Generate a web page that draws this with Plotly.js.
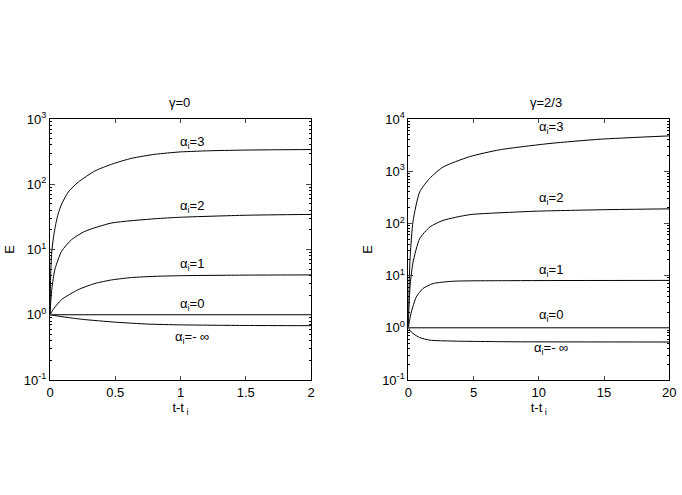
<!DOCTYPE html>
<html>
<head>
<meta charset="utf-8">
<script src="https://cdn.plot.ly/plotly-3.0.1.min.js"></script>
<style>body{margin:0;background:#fff}#plot{width:682px;height:495px}</style>
</head>
<body>
<div id="plot"></div>
<script>
// left panel, gamma = 0
var tL3 = [0, 0.005, 0.013, 0.026, 0.045, 0.064, 0.09, 0.14, 0.217, 0.345, 0.473, 0.626, 0.805, 1.0, 1.25, 1.5, 1.75, 2.0];
var eL3 = [1, 4, 9, 15, 25, 36, 50, 76, 108, 160, 203, 250, 288, 313, 327, 334, 338, 340];
var tL2 = [0, 0.006, 0.015, 0.038, 0.089, 0.166, 0.268, 0.473, 0.805, 1.0, 1.5, 2.0];
var eL2 = [1, 1.6, 2.6, 5.0, 9.4, 14.2, 19, 25.5, 29.6, 31.2, 33.5, 34.5];
var tL1 = [0, 0.03, 0.089, 0.217, 0.345, 0.473, 0.626, 0.805, 1.0, 1.5, 2.0];
var eL1 = [1, 1.25, 1.71, 2.43, 3.02, 3.42, 3.72, 3.88, 3.97, 4.05, 4.08];
var tL0 = [0, 2];
var eL0 = [1, 1];
var tLm = [0, 0.1, 0.25, 0.5, 0.75, 1.0, 1.5, 2.0];
var eLm = [1, 0.93, 0.85, 0.77, 0.72, 0.70, 0.685, 0.68];

// right panel, gamma = 2/3
var tR3 = [0, 0.05, 0.15, 0.36, 0.87, 1.64, 2.66, 4.7, 7.0, 10.86, 14.7, 20];
var eR3 = [1, 6, 25, 110, 400, 730, 1200, 1900, 2570, 3400, 4100, 4750];
var tR2 = [0, 0.05, 0.15, 0.36, 0.87, 1.64, 2.66, 4.7, 8.02, 10, 15, 20];
var eR2 = [1, 2.5, 7, 18, 51, 85, 114, 147, 164, 172, 183, 190];
var tR1 = [0, 0.1, 0.23, 0.61, 1.12, 1.89, 3.42, 8.02, 20];
var eR1 = [1, 1.4, 2.0, 3.9, 5.65, 7.04, 7.8, 8.0, 8.1];
var tR0 = [0, 20];
var eR0 = [1, 1];
var tRm = [0, 0.15, 0.36, 0.87, 1.64, 3.42, 8.02, 20];
var eRm = [1, 0.88, 0.78, 0.65, 0.58, 0.557, 0.54, 0.535];

var xTicksL = [0, 0.5, 1, 1.5, 2];
var xTicksR = [0, 5, 10, 15, 20];
var yValsL = [0.1, 1, 10, 100, 1000];
var yTextL = ["10<sup>-1</sup>", "10<sup>0</sup>", "10<sup>1</sup>", "10<sup>2</sup>", "10<sup>3</sup>"];
var yValsR = [0.1, 1, 10, 100, 1000, 10000];
var yTextR = ["10<sup>-1</sup>", "10<sup>0</sup>", "10<sup>1</sup>", "10<sup>2</sup>", "10<sup>3</sup>", "10<sup>4</sup>"];

var labels = ["α<sub>i</sub>=3", "α<sub>i</sub>=2", "α<sub>i</sub>=1", "α<sub>i</sub>=0", "α<sub>i</sub>=- ∞"];
var labYL = [2.64, 1.66, 0.77, 0.15, -0.35];
var labYR = [3.84, 2.47, 1.10, 0.23, -0.40];

function line(x, y, xa, ya) {
  return {x: x, y: y, xaxis: xa, yaxis: ya, mode: "lines", type: "scatter",
    line: {color: "#000", width: 1, shape: "spline", smoothing: 0.6}, hoverinfo: "none"};
}

var data = [
  line(tL3, eL3, "x", "y"), line(tL2, eL2, "x", "y"), line(tL1, eL1, "x", "y"),
  line(tL0, eL0, "x", "y"), line(tLm, eLm, "x", "y"),
  line(tR3, eR3, "x2", "y2"), line(tR2, eR2, "x2", "y2"), line(tR1, eR1, "x2", "y2"),
  line(tR0, eR0, "x2", "y2"), line(tRm, eRm, "x2", "y2")
];

var font = {family: "Liberation Sans, Arial, sans-serif", size: 13, color: "#000"};

function xaxis(dom, range, ticks, anchor) {
  return {domain: dom, range: range, anchor: anchor, tickvals: ticks, ticks: "inside", ticklen: 4,
    showline: true, linecolor: "#000", linewidth: 1, mirror: "allticks", showgrid: false, zeroline: false,
    tickfont: font, title: {text: "t-t<sub> i</sub>", font: font, standoff: 4}};
}
function yaxis(dom, range, vals, text, anchor) {
  return {domain: dom, type: "log", range: range, anchor: anchor, tickvals: vals, ticktext: text,
    ticks: "inside", ticklen: 5, showline: true, linecolor: "#000", linewidth: 1, mirror: "allticks",
    showgrid: false, zeroline: false, tickfont: font,
    minor: {ticks: "inside", ticklen: 2, dtick: "D1", showgrid: false, tickcolor: "#000"},
    title: {text: "E", font: font, standoff: 6}};
}

var annotations = [
  {text: "γ=0", xref: "paper", yref: "paper", x: 0.263, y: 0.792, xanchor: "center", yanchor: "middle", showarrow: false, font: font},
  {text: "γ=2/3", xref: "paper", yref: "paper", x: 0.8006, y: 0.792, xanchor: "center", yanchor: "middle", showarrow: false, font: font}
];
for (var i = 0; i < labels.length; i++) {
  annotations.push({text: labels[i], xref: "x", yref: "y", x: 1.09, y: labYL[i], showarrow: false, font: font});
  annotations.push({text: labels[i], xref: "x2", yref: "y2", x: 10.9, y: labYR[i], showarrow: false, font: font});
}

var layout = {
  width: 682, height: 495,
  margin: {l: 0, r: 0, t: 0, b: 0},
  paper_bgcolor: "#fff", plot_bgcolor: "#fff",
  showlegend: false,
  font: font,
  xaxis: xaxis([0.0733, 0.456], [0, 2], xTicksL, "y"),
  yaxis: yaxis([0.2323, 0.7596], [-1, 3], yValsL, yTextL, "x"),
  xaxis2: xaxis([0.5987, 0.9814], [0, 20], xTicksR, "y2"),
  yaxis2: yaxis([0.2323, 0.7596], [-1, 4], yValsR, yTextR, "x2"),
  annotations: annotations
};

Plotly.newPlot("plot", data, layout, {displayModeBar: false, staticPlot: true});
</script>
</body>
</html>
